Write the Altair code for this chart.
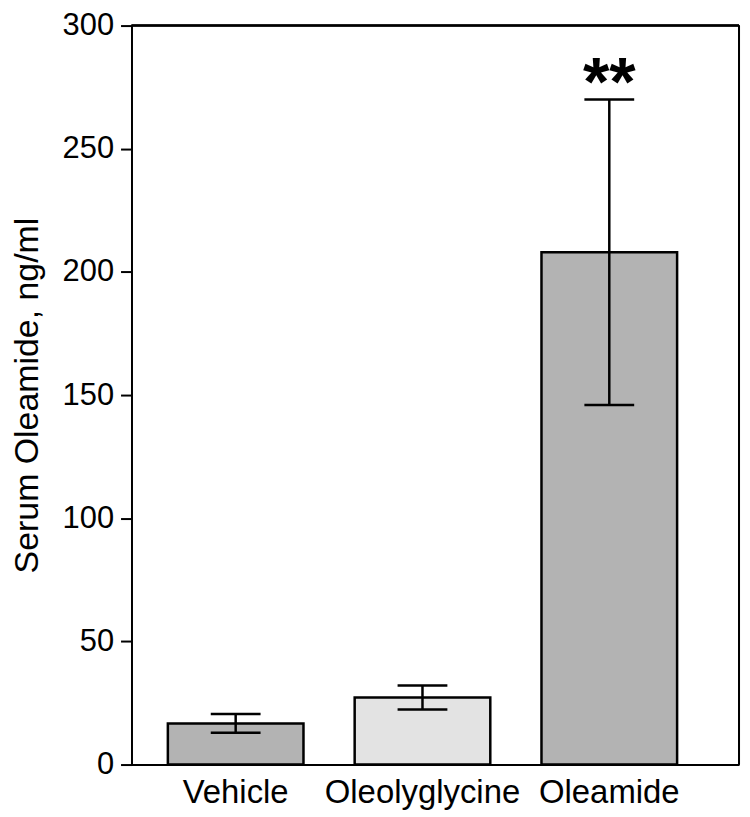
import altair as alt
import pandas as pd

categories = ["Vehicle", "Oleolyglycine", "Oleamide"]
means = [16.7, 27.2, 208.0]
sems = [3.8, 4.9, 62.0]
fills = ["#b3b3b3", "#e3e3e3", "#b3b3b3"]
stars = ["", "", "**"]

df = pd.DataFrame({
    "group": categories,
    "mean": means,
    "low": [m - s for m, s in zip(means, sems)],
    "high": [m + s for m, s in zip(means, sems)],
    "fill": fills,
    "star": stars,
})

FONT = "Liberation Sans"
W, H = 610, 742

xenc = alt.X(
    "group:N",
    sort=categories,
    scale=alt.Scale(paddingInner=0.274, paddingOuter=0.263, align=0.37),
    axis=alt.Axis(
        title=None, labelAngle=0, ticks=False, labelFontSize=33, labelFont=FONT,
        labelColor="black", labelPadding=12, labelLimit=400,
        domainColor="black", domainWidth=2,
    ),
)
yscale = alt.Scale(domain=[0, 300], nice=False)
yaxis = alt.Axis(
    title="Serum Oleamide, ng/ml", values=[0, 50, 100, 150, 200, 250, 300],
    grid=False, tickSize=11, tickWidth=2, tickColor="black", domainColor="black",
    domainWidth=2, labelFontSize=31, labelFont=FONT, labelColor="black",
    labelPadding=7, titleFontSize=34, titleFont=FONT, titleFontWeight="normal",
    titleColor="black", titlePadding=18,
)

base = alt.Chart(df).encode(x=xenc)

bars = base.mark_bar(stroke="black", strokeWidth=2.5).encode(
    y=alt.Y("mean:Q", scale=yscale, axis=yaxis),
    color=alt.Color("fill:N", scale=None, legend=None),
)
rules = base.mark_rule(color="black", strokeWidth=2.5).encode(
    y=alt.Y("low:Q", scale=yscale), y2="high:Q"
)
tick_hi = base.mark_tick(color="black", thickness=2.5, size=50, opacity=1).encode(
    y=alt.Y("high:Q", scale=yscale)
)
tick_lo = base.mark_tick(color="black", thickness=2.5, size=50, opacity=1).encode(
    y=alt.Y("low:Q", scale=yscale)
)
text = base.mark_text(
    font=FONT, fontSize=68, fontWeight="bold", color="black",
    baseline="alphabetic", dy=6,
).encode(y=alt.Y("high:Q", scale=yscale), text="star:N")

top_border = alt.Chart(df).mark_rule(color="black", strokeWidth=2).encode(
    y=alt.datum(300, scale=yscale), x=alt.value(0), x2=alt.value(W)
)
right_border = alt.Chart(df).mark_rule(color="black", strokeWidth=2).encode(
    x=alt.value(W), y=alt.value(0), y2=alt.value(H)
)

chart = (
    alt.layer(bars, rules, tick_hi, tick_lo, text, top_border, right_border)
    .properties(width=W, height=H, padding={"left": 2, "top": 0, "right": 2, "bottom": 0})
    .configure_view(stroke=None)
    .configure(background="white")
)

chart.save("out.html", embed_options={"renderer": "svg", "actions": False})
